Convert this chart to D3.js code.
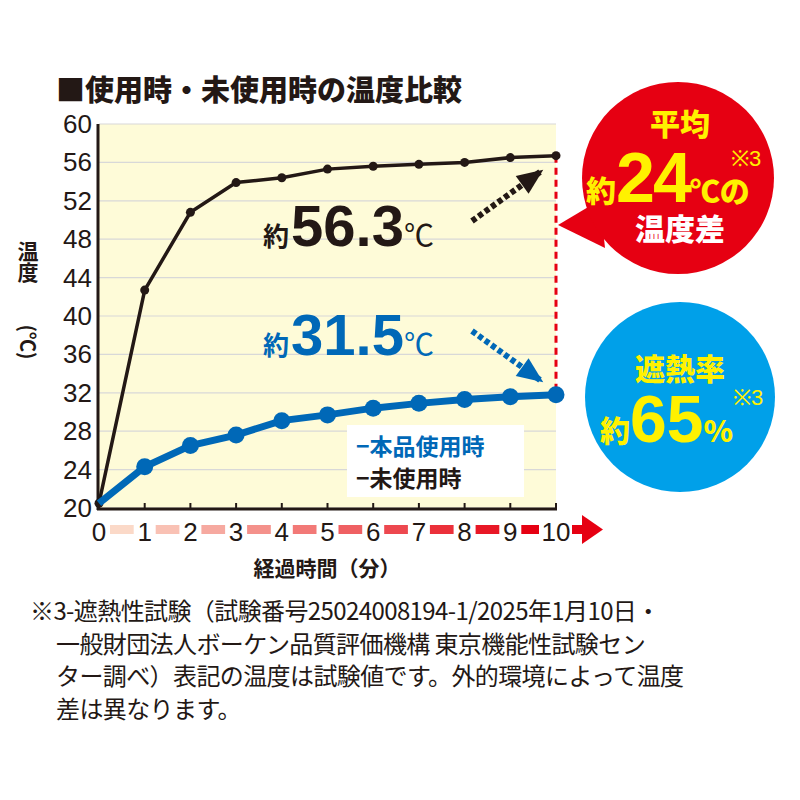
<!DOCTYPE html><html><head><meta charset="utf-8"><script src="https://cdn.jsdelivr.net/npm/d3@7"></script>
<style>body{margin:0;background:#fff}</style></head><body><svg id="c" width="800" height="800"></svg><script>
const minutes=[0,1,2,3,4,5,6,7,8,9,10];
const unused=[20.5,42.7,50.8,53.9,54.4,55.3,55.6,55.8,56.0,56.5,56.7];
const used=[20.5,24.3,26.5,27.6,29.1,29.7,30.4,30.9,31.3,31.6,31.8];
const yTicks=[20,24,28,32,36,40,44,48,52,56,60];
const JP='"Noto Sans CJK JP",sans-serif', NUM='"Liberation Sans",Arial,sans-serif';
const svg=d3.select('#c');
const x=d3.scaleLinear().domain([0,10]).range([99,556]);
const y=d3.scaleLinear().domain([20,60]).range([508,124]);
svg.append('rect').attr('x',99).attr('y',124).attr('width',457).attr('height',384).attr('fill','#fefbd8');
yTicks.forEach(t=>{svg.append('line').attr('x1',99).attr('x2',556).attr('y1',y(t)).attr('y2',y(t)).attr('stroke','#d8d8d8').attr('stroke-width',1.2);
svg.append('text').attr('x',92).attr('y',y(t)+9).attr('text-anchor','end').attr('font-family',NUM).attr('font-size',26).attr('fill','#231815').text(t);});
svg.append('line').attr('x1',98).attr('x2',98).attr('y1',124).attr('y2',510).attr('stroke','#231815').attr('stroke-width',3);
svg.append('line').attr('x1',97).attr('x2',557).attr('y1',509).attr('y2',509).attr('stroke','#231815').attr('stroke-width',3);
minutes.forEach(m=>svg.append('line').attr('x1',x(m)).attr('x2',x(m)).attr('y1',509).attr('y2',503).attr('stroke','#231815').attr('stroke-width',2));
const col=d3.scaleLinear().domain([0,9]).range(['#fbd9c8','#e60012']);
minutes.slice(0,10).forEach((m,i)=>svg.append('rect').attr('x',x(m)+11).attr('y',525).attr('width',x(1)-x(0)-(m==9?28:22)).attr('height',9).attr('fill',col(i)));
svg.append('rect').attr('x',572).attr('y',525).attr('width',12).attr('height',9).attr('fill','#e60012');
svg.append('path').attr('d','M582,515 L603,529.5 L582,544 Z').attr('fill','#e60012');
minutes.forEach(m=>svg.append('text').attr('x',x(m)).attr('y',541).attr('text-anchor','middle').attr('font-family',NUM).attr('font-size',26).attr('fill','#231815').text(m));
svg.append('text').attr('x',327).attr('y',576).attr('text-anchor','middle').attr('font-family',JP).attr('font-weight',700).attr('font-size',21).attr('fill','#231815').text('経過時間（分）');
svg.append('text').attr('x',28).attr('y',262).attr('font-family',JP).attr('font-weight',700).attr('font-size',21).attr('fill','#231815').attr('writing-mode','tb').attr('text-anchor','middle').text('温度');
svg.append('text').attr('transform','translate(20,342) rotate(90)').attr('text-anchor','middle').attr('font-family',JP).attr('font-weight',700).attr('font-size',20).attr('fill','#231815').text('(℃)');
svg.append('text').attr('x',56).attr('y',101).attr('font-family',JP).attr('font-weight',900).attr('font-size',29).attr('fill','#231815').text('■使用時・未使用時の温度比較');
svg.append('line').attr('x1',556).attr('x2',556).attr('y1',y(56.7)).attr('y2',y(31.8)).attr('stroke','#e60012').attr('stroke-width',3).attr('stroke-dasharray','7,5');
const line=d3.line().x((d,i)=>x(minutes[i])).y(d=>y(d));
svg.append('path').attr('d',line(unused)).attr('fill','none').attr('stroke','#231815').attr('stroke-width',3.5);
unused.forEach((v,i)=>svg.append('circle').attr('cx',x(minutes[i])).attr('cy',y(v)).attr('r',4.5).attr('fill','#231815'));
svg.append('path').attr('d',line(used)).attr('fill','none').attr('stroke','#0068b7').attr('stroke-width',7);
used.forEach((v,i)=>i>0&&svg.append('circle').attr('cx',x(minutes[i])).attr('cy',y(v)).attr('r',8.5).attr('fill','#0068b7'));
svg.append('rect').attr('x',347).attr('y',425).attr('width',177).attr('height',72).attr('fill','#fff');
svg.append('text').attr('x',356).attr('y',455).attr('font-family',JP).attr('font-weight',700).attr('font-size',23).attr('fill','#0068b7').text('−本品使用時');
svg.append('text').attr('x',356).attr('y',487).attr('font-family',JP).attr('font-weight',700).attr('font-size',23).attr('fill','#231815').text('−未使用時');
function ann(xx,yy,c,num){const t=svg.append('text').attr('x',xx).attr('y',yy).attr('fill',c);
t.append('tspan').attr('font-family',JP).attr('font-weight',700).attr('font-size',26).text('約');
t.append('tspan').attr('font-family',NUM).attr('font-weight',700).attr('font-size',58).attr('dx',2).text(num);
t.append('tspan').attr('font-family',JP).attr('font-size',30).text('℃');}
ann(263,246,'#231815','56.3');ann(263,355,'#0068b7','31.5');
function arrow(x1,y1,x2,y2,c){svg.append('line').attr('x1',x1).attr('y1',y1).attr('x2',x2).attr('y2',y2).attr('stroke',c).attr('stroke-width',6).attr('stroke-dasharray','5,3');
const a=Math.atan2(y2-y1,x2-x1);const L=22,W=11;const bx=x2-L*Math.cos(a),by=y2-L*Math.sin(a);
svg.append('path').attr('d',`M${x2+4*Math.cos(a)},${y2+4*Math.sin(a)} L${bx-W*Math.sin(a)},${by+W*Math.cos(a)} L${bx+W*Math.sin(a)},${by-W*Math.cos(a)}Z`).attr('fill',c);}
arrow(472,221,540,172,'#231815');arrow(472,331,540,380,'#0068b7');
svg.append('path').attr('d','M558,225 L600,200 L605,248 Z').attr('fill','#e60012');
svg.append('circle').attr('cx',678).attr('cy',178).attr('r',96).attr('fill','#e60012');
const W='#fff',Yl='#fff100';
svg.append('text').attr('x',680).attr('y',135).attr('text-anchor','middle').attr('font-family',JP).attr('font-weight',900).attr('font-size',30).attr('fill',Yl).text('平均');
const r2=svg.append('text').attr('x',586).attr('y',202).attr('fill',Yl);
r2.append('tspan').attr('font-family',JP).attr('font-weight',900).attr('font-size',30).text('約');
r2.append('tspan').attr('font-family',NUM).attr('font-weight',700).attr('font-size',70).attr('letter-spacing',-2).text('24');
r2.append('tspan').attr('font-family',JP).attr('font-weight',900).attr('font-size',30).text('℃の');
svg.append('text').attr('x',731).attr('y',166).attr('font-family',NUM).attr('font-size',22).attr('fill',Yl).text('※3');
svg.append('text').attr('x',680).attr('y',240).attr('text-anchor','middle').attr('font-family',JP).attr('font-weight',900).attr('font-size',30).attr('fill',W).text('温度差');
svg.append('circle').attr('cx',680).attr('cy',397).attr('r',95).attr('fill','#00a0e9');
svg.append('text').attr('x',680).attr('y',380).attr('text-anchor','middle').attr('font-family',JP).attr('font-weight',900).attr('font-size',30).attr('fill',Yl).text('遮熱率');
const b2=svg.append('text').attr('x',600).attr('y',442).attr('fill',Yl);
b2.append('tspan').attr('font-family',JP).attr('font-weight',900).attr('font-size',30).text('約');
b2.append('tspan').attr('font-family',NUM).attr('font-weight',700).attr('font-size',66).text('65');
b2.append('tspan').attr('font-family',JP).attr('font-weight',900).attr('font-size',30).text('%');
svg.append('text').attr('x',733).attr('y',405).attr('font-family',NUM).attr('font-size',22).attr('fill',Yl).text('※3');
const notes=['※3-遮熱性試験（試験番号25024008194-1/2025年1月10日・','一般財団法人ボーケン品質評価機構 東京機能性試験セン','ター調べ）表記の温度は試験値です。外的環境によって温度','差は異なります。'];
notes.forEach((s,i)=>svg.append('text').attr('x',i==0?30:56).attr('y',620+i*32.5).attr('font-family',JP).attr('font-size',24).attr('letter-spacing',-0.6).attr('fill','#231815').text(s));
</script></body></html>
